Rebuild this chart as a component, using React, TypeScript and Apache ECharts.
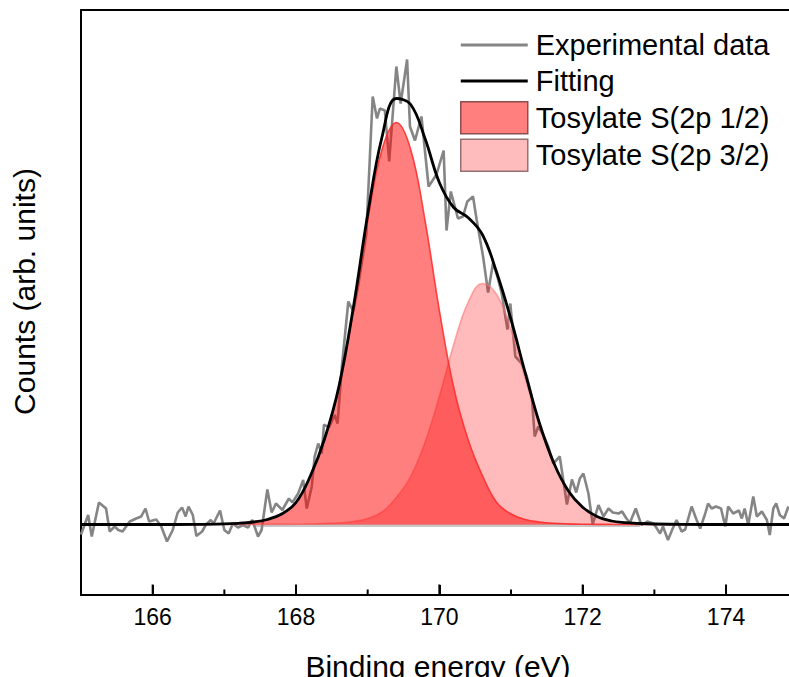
import React, { useEffect, useRef } from "react";
import * as echarts from "echarts";

// Experimental XPS S 2p data (binding energy, counts above baseline, arb. units)
const expEnergy = [
  165.0, 165.1, 165.15, 165.25, 165.35, 165.4, 165.47, 165.52, 165.58, 165.68,
  165.77, 165.84, 165.9, 165.95, 166.05, 166.12, 166.2, 166.28, 166.35, 166.41,
  166.46, 166.5, 166.56, 166.61, 166.69, 166.74, 166.81, 166.85, 166.94, 167.0,
  167.06, 167.12, 167.19, 167.26, 167.33, 167.39, 167.47, 167.52, 167.6, 167.66,
  167.72, 167.81, 167.9, 167.95, 168.03, 168.1, 168.15, 168.22, 168.26, 168.31,
  168.36, 168.39, 168.46, 168.54, 168.58, 168.64, 168.73, 168.8, 168.87, 168.98,
  169.07, 169.13, 169.17, 169.24, 169.3, 169.4, 169.46, 169.55, 169.59, 169.66,
  169.75, 169.85, 169.96, 170.06, 170.1, 170.16, 170.26, 170.33, 170.39, 170.47,
  170.52, 170.61, 170.68, 170.75, 170.81, 170.87, 170.95, 170.99, 171.02, 171.06,
  171.15, 171.22, 171.29, 171.33, 171.38, 171.44, 171.52, 171.59, 171.68, 171.78,
  171.85, 171.91, 171.96, 172.01, 172.08, 172.14, 172.22, 172.29, 172.36, 172.42,
  172.5, 172.55, 172.61, 172.66, 172.74, 172.82, 172.9, 172.99, 173.08, 173.12,
  173.19, 173.25, 173.31, 173.38, 173.43, 173.52, 173.59, 173.64, 173.71, 173.75,
  173.8, 173.86, 173.93, 173.99, 174.03, 174.1, 174.18, 174.22, 174.26, 174.31,
  174.38, 174.43, 174.5, 174.57, 174.61, 174.66, 174.7, 174.75, 174.81, 174.87,
];
const expCounts = [
  -10, 9.5, -12, 22, 16, -7, -2, -5.5, -7, 3,
  6, 8, 16, 3, 5, -2, -17, -5.5, 12, 17,
  8, 18, 9.5, -11.5, -7, -0.5, 4.5, 1, 14, -5.5,
  -9, 1, -3, -0.5, -3, 4.5, -12, -5.5, 35, 12,
  21, 14.5, 26, 22, 31, 44.5, 16, 38, 68, 81,
  71, 100, 97, 109.5, 101, 158, 223, 213, 240, 290,
  428, 406, 416, 414, 363, 458, 421, 465, 398, 384,
  408, 338, 350, 374, 294, 333, 306, 308, 323, 328,
  305, 268, 232, 262, 248, 231, 195, 221, 198, 168,
  161, 148, 128, 88, 98, 91, 78, 61, 68, 20,
  45, 32, 46, 51, 31, 0, 19.5, 8, 16, 12,
  11, 13, 6, 2, 16, -0.5, 3, 1, -9, -2,
  -15.5, -5, 4.5, -7, -5, 18, 4.5, -4, 11, 21,
  16, 18, 16, -2, 18, 11, 14, 6, 16, -0.5,
  28, 8, 13, 4.5, -10.5, 16, 21, 9.5, 6, 18,
];

// Envelope of the fit
const fitEnergy = [
  165.0, 166.0, 166.6, 167.0, 167.2, 167.4, 167.6, 167.8, 168.0, 168.2,
  168.4, 168.6, 168.8, 169.0, 169.2, 169.4, 169.6, 169.8, 170.0, 170.2,
  170.4, 170.6, 170.8, 171.0, 171.2, 171.4, 171.6, 171.8, 172.0, 172.2,
  172.4, 172.6, 172.8, 173.0, 173.4, 174.0, 175.0,
];
const fitCounts = [
  0, 0, 0.1, 0.6, 1.2, 2.5, 5, 10.5, 22, 48.5,
  86, 138.5, 217, 310, 387.5, 426, 420, 386, 342, 317,
  307, 290, 252, 205, 151, 100.5, 61, 33.6, 17.3, 8,
  3.5, 1.8, 1, 0.5, 0.1, 0, 0,
];

// Component S(2p 1/2)
const peakAEnergy = [
  165.0, 166.6, 167.0, 167.2, 167.4, 167.6, 167.8, 168.0, 168.2, 168.4,
  168.6, 168.8, 169.0, 169.2, 169.4, 169.6, 169.8, 170.0, 170.2, 170.4,
  170.6, 170.8, 171.0, 171.2, 171.4, 171.6, 171.8, 172.0, 172.4, 175.0,
];
const peakACounts = [
  0, 0.1, 0.6, 1.2, 2.5, 5, 10.5, 22, 48, 85,
  137, 214, 304, 375, 402, 375, 304, 214, 137, 85,
  49, 22, 10.5, 5, 2.5, 1.2, 0.6, 0.3, 0.1, 0,
];

// Component S(2p 3/2)
const peakBEnergy = [
  165.0, 167.8, 168.2, 168.4, 168.6, 168.8, 169.0, 169.2, 169.4, 169.6,
  169.8, 170.0, 170.2, 170.4, 170.6, 170.8, 171.0, 171.2, 171.4, 171.6,
  171.8, 172.0, 172.2, 172.4, 172.6, 172.8, 173.0, 173.4, 175.0,
];
const peakBCounts = [
  0, 0.1, 0.5, 1, 1.5, 3, 6, 12.5, 27, 48,
  82, 128, 180, 222, 241, 230, 194.5, 146, 98, 60,
  33, 17, 8, 3.5, 1.8, 1, 0.5, 0.1, 0,
];

const baselineEnergy = [167.4, 172.8];
const baselineCounts = [-1, -1];

const majorTicks = [166, 168, 170, 172, 174];
const minorTicks = [167, 169, 171, 173];

const seriesNames = [
  "Experimental data",
  "Fitting",
  "Tosylate S(2p 1/2)",
  "Tosylate S(2p 3/2)",
];

const Y_MIN = -70.5;
const Y_MAX = 514.5;
const TICK_BASE = Y_MIN + 0.5; // start just inside the frame
const MAJOR_LEN = 10; // y units (~1 px each here)
const MINOR_LEN = 5;

const FONT = "'Liberation Sans', Arial, sans-serif";

const pairs = (xs: number[], ys: number[]) => xs.map((x, i) => [x, ys[i]]);

// tick marks as broken line segments: [x, base], [x, base+len], gap
const tickPath = (values: number[], len: number) => {
  const out: any[] = [];
  values.forEach((v) => {
    out.push([v, TICK_BASE], [v, TICK_BASE + len], "-");
  });
  return out;
};

export default function App() {
  const ref = useRef<HTMLDivElement>(null);

  useEffect(() => {
    if (!ref.current) return;
    const chart = echarts.init(ref.current, undefined, { renderer: "svg" });
    const frameLine = { show: true, onZero: false, lineStyle: { color: "#000", width: 2 } };
    const option: any = {
      animation: false,
      backgroundColor: "#ffffff",
      grid: {
        left: 81,
        top: 10,
        width: 716.7,
        height: 585,
        show: false,
        outerBoundsMode: "none",
        containLabel: false,
      },
      xAxis: [
        {
          type: "value",
          min: 165,
          max: 175,
          position: "bottom",
          axisLine: frameLine,
          splitLine: { show: false },
          axisTick: {
            show: true,
            inside: true,
            length: 10,
            customValues: majorTicks,
            lineStyle: { color: "#000", width: 2 },
          },
          axisLabel: {
            show: true,
            customValues: majorTicks,
            fontSize: 23,
            color: "#000",
            fontFamily: FONT,
            margin: 10,
          },
        },
        {
          type: "value",
          min: 165,
          max: 175,
          position: "top",
          axisLine: frameLine,
          splitLine: { show: false },
          axisTick: { show: false },
          axisLabel: { show: false },
        },
      ],
      yAxis: {
        type: "value",
        min: Y_MIN,
        max: Y_MAX,
        position: "left",
        axisLine: frameLine,
        axisTick: { show: false },
        axisLabel: { show: false },
        splitLine: { show: false },
      },
      legend: {
        orient: "vertical",
        left: 460,
        top: 29,
        padding: 0,
        itemWidth: 67,
        itemHeight: 32,
        itemGap: 4,
        symbolKeepAspect: true,
        selectedMode: false,
        z: 10,
        textStyle: {
          fontSize: 29,
          color: "#000",
          fontFamily: FONT,
          lineHeight: 32,
          padding: [0, 0, 0, 3],
        },
        data: [
          {
            name: seriesNames[0],
            icon: "path://M0,0H67V3H0Z",
            itemStyle: { color: "#858585", borderWidth: 0 },
          },
          {
            name: seriesNames[1],
            icon: "path://M0,0H67V3H0Z",
            itemStyle: { color: "#000000", borderWidth: 0 },
          },
          {
            name: seriesNames[2],
            icon: "rect",
            itemStyle: { color: "#FF7F7F", borderColor: "#8C4E4E", borderWidth: 1.5 },
          },
          {
            name: seriesNames[3],
            icon: "rect",
            itemStyle: { color: "#FFBCBC", borderColor: "#977070", borderWidth: 1.5 },
          },
        ],
      },
      series: [
        {
          name: "baseline",
          type: "line",
          data: pairs(baselineEnergy, baselineCounts),
          symbol: "none",
          z: 5,
          lineStyle: { color: "#c8c8c8", width: 3 },
          itemStyle: { color: "#c8c8c8" },
          silent: true,
        },
        {
          name: seriesNames[0],
          type: "line",
          data: pairs(expEnergy, expCounts),
          symbol: "none",
          z: 6,
          lineStyle: { color: "#858585", width: 2.6 },
          itemStyle: { color: "#858585" },
        },
        {
          name: seriesNames[3],
          type: "line",
          data: pairs(peakBEnergy, peakBCounts),
          symbol: "none",
          smooth: 0.4,
          z: 7,
          lineStyle: { color: "rgba(255,110,110,0.55)", width: 1.6 },
          areaStyle: { color: "rgba(255,0,0,0.265)", opacity: 1, origin: 0 },
          itemStyle: { color: "#FFBCBC" },
        },
        {
          name: seriesNames[2],
          type: "line",
          data: pairs(peakAEnergy, peakACounts),
          symbol: "none",
          smooth: 0.4,
          z: 8,
          lineStyle: { color: "rgba(255,40,40,0.85)", width: 1.6 },
          areaStyle: { color: "rgba(255,0,0,0.5)", opacity: 1, origin: 0 },
          itemStyle: { color: "#FF7F7F" },
        },
        {
          name: seriesNames[1],
          type: "line",
          data: pairs(fitEnergy, fitCounts),
          symbol: "none",
          smooth: 0.4,
          z: 9,
          lineStyle: { color: "#000000", width: 2.8 },
          itemStyle: { color: "#000000" },
        },
        {
          name: "majorTicks",
          type: "line",
          data: tickPath(majorTicks, MAJOR_LEN),
          symbol: "none",
          connectNulls: false,
          clip: false,
          silent: true,
          z: 20,
          lineStyle: { color: "#000", width: 2, cap: "butt" },
          itemStyle: { color: "#000" },
        },
        {
          name: "minorTicks",
          type: "line",
          data: tickPath(minorTicks, MINOR_LEN),
          symbol: "none",
          connectNulls: false,
          clip: false,
          silent: true,
          z: 20,
          lineStyle: { color: "#000", width: 2, cap: "butt" },
          itemStyle: { color: "#000" },
        },
      ],
      graphic: [
        {
          type: "text",
          x: 24,
          y: 291.5,
          rotation: Math.PI / 2,
          style: {
            text: "Counts (arb. units)",
            fontSize: 30,
            fontFamily: FONT,
            fill: "#000",
            align: "center",
            verticalAlign: "middle",
          },
        },
        {
          type: "text",
          x: 438,
          y: 666,
          style: {
            text: "Binding energy (eV)",
            fontSize: 30,
            fontFamily: FONT,
            fill: "#000",
            align: "center",
            verticalAlign: "middle",
          },
        },
      ],
    };
    chart.setOption(option);
    return () => {
      chart.dispose();
    };
  }, []);

  return (
    <div
      ref={ref}
      style={{ position: "absolute", left: 0, top: 0, width: 789, height: 677 }}
    />
  );
}
